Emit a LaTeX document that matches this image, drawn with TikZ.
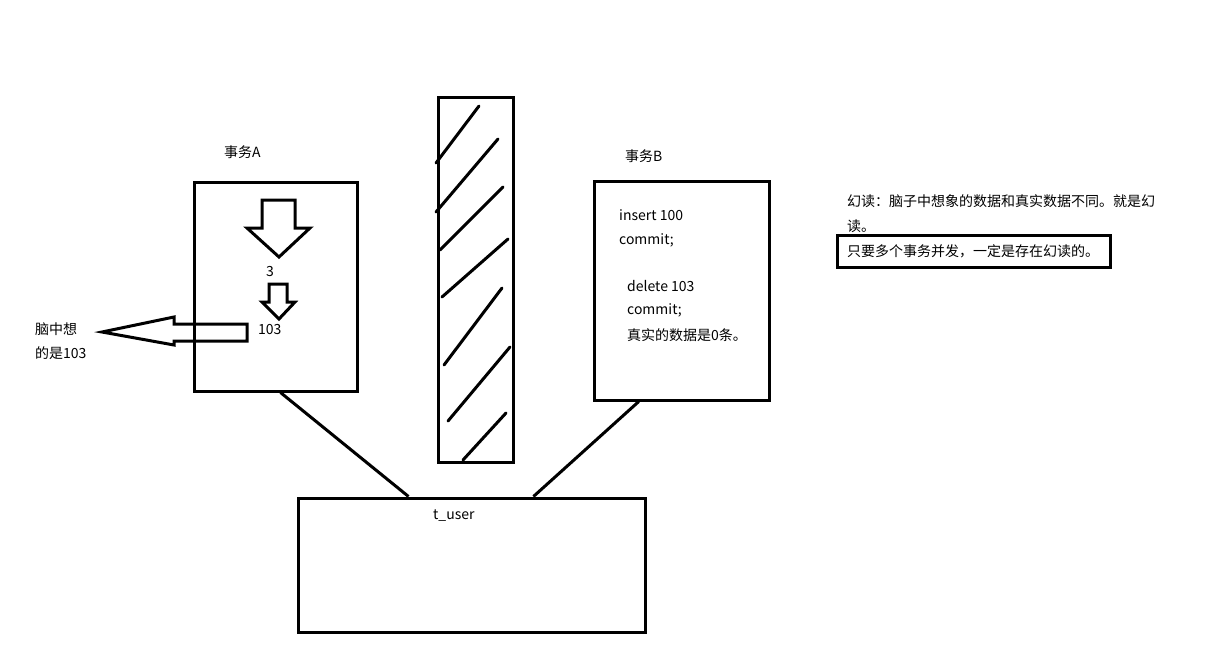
\documentclass[tikz,border=0pt]{standalone}
\usepackage{fontspec}
\setmainfont{Noto Sans CJK SC}
\usetikzlibrary{calc}
\begin{document}
\begin{tikzpicture}[x=1pt,y=-1pt,
  box/.style={draw,line width=3pt,rectangle,inner sep=0pt},
  lbl/.style={font=\fontsize{14}{16}\selectfont,inner sep=0pt,anchor=west},
  thick3/.style={line width=3pt},
  hatch/.style={line width=3pt,line cap=round}]
\useasboundingbox (0,0) rectangle (1211,659);
\fill[white] (0,0) rectangle (1211,659);
% boxes
\node[box,minimum width=163pt,minimum height=209pt] (boxA) at (275.5,286.5) {};
\node[box,minimum width=75pt,minimum height=365pt] (wall) at (475.5,279.5) {};
\node[box,minimum width=175pt,minimum height=219pt] (boxB) at (681.5,290.5) {};
\node[box,minimum width=347pt,minimum height=134pt] (tuser) at (471.5,565) {};
% titles
\node[lbl] (tA) at (224,152) {事务A};
\node[lbl] (tB) at (625,156) {事务B};
\node[lbl] (tu) at (433,516) {t\_user};
% box A content
\draw[thick3,line join=miter] (262,200) -- (295,200) -- (295,228) -- (310,228) -- (279,257) -- (247,228) -- (262,228) -- cycle;
\node[lbl] (three) at (266,272) {3};
\draw[thick3,line join=miter] (269,284) -- (287,284) -- (287,302) -- (295,302) -- (279,319) -- (262,302) -- (269,302) -- cycle;
\node[lbl] (n103) at (258,330) {103};
% left arrow
\draw[thick3,line join=miter] (247,324) -- (174,324) -- (174,317) -- (102,332) -- (174,345) -- (174,341) -- (247,341) -- cycle;
\node[lbl] (think1) at (35,329) {脑中想};
\node[lbl] (think2) at (35,353) {的是103};
% hatch lines
\draw[hatch] (479,106) -- (436,163);
\draw[hatch] (498,139) -- (436,212);
\draw[hatch] (503,187) -- (440,250);
\draw[hatch] (508,239) -- (442,297) ;
\draw[hatch] (502,288) -- (444,365);
\draw[hatch] (510,347) -- (448,421);
\draw[hatch] (506,413) -- (463,460);
% box B content
\node[lbl] (b1) at (619,215) {insert 100};
\node[lbl] (b2) at (619,240) {commit;};
\node[lbl] (b3) at (627,286) {delete 103};
\node[lbl] (b4) at (627,310) {commit;};
\node[lbl] (b5) at (627,335) {真实的数据是0条。};
% right notes
\node[lbl] (r1) at (847,201) {幻读：脑子中想象的数据和真实数据不同。就是幻};
\node[lbl] (r2) at (847,226) {读。};
\node[box,minimum width=273pt,minimum height=32pt] (rbox) at (973.5,251) {};
\node[lbl] (r3) at (847,251) {只要多个事务并发，一定是存在幻读的。};
% connectors
\draw[thick3] ($(boxA.south west)!0.53!(boxA.south east)$) -- ($(tuser.north west)!0.32!(tuser.north east)$);
\draw[thick3] ($(boxB.south west)!0.26!(boxB.south east)$) -- ($(tuser.north west)!0.677!(tuser.north east)$);
\end{tikzpicture}
\end{document}
